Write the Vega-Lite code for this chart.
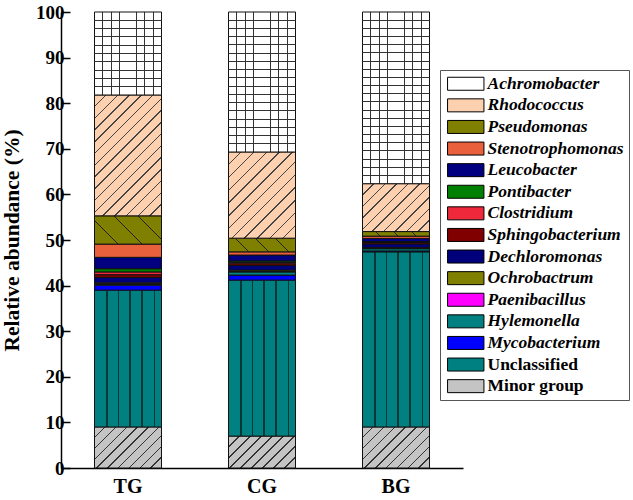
{
  "$schema": "https://vega.github.io/schema/vega-lite/v6.json",
  "autosize": "none",
  "width": 402,
  "height": 456,
  "padding": {"left": 61, "top": 12, "right": 170, "bottom": 32},
  "background": "white",
  "config": {
    "font": "Liberation Serif",
    "view": {"stroke": null}
  },
  "data": {"values": [
    {"group": "TG", "genus": "Minor group", "value": 9.0},
    {"group": "TG", "genus": "Unclassified", "value": 30.0},
    {"group": "TG", "genus": "Mycobacterium", "value": 1.1},
    {"group": "TG", "genus": "Hylemonella", "value": 0.2},
    {"group": "TG", "genus": "Paenibacillus", "value": 0.1},
    {"group": "TG", "genus": "Ochrobactrum", "value": 0.2},
    {"group": "TG", "genus": "Dechloromonas", "value": 1.2},
    {"group": "TG", "genus": "Sphingobacterium", "value": 0.6},
    {"group": "TG", "genus": "Clostridium", "value": 0.6},
    {"group": "TG", "genus": "Pontibacter", "value": 0.7},
    {"group": "TG", "genus": "Leucobacter", "value": 2.5},
    {"group": "TG", "genus": "Stenotrophomonas", "value": 2.9},
    {"group": "TG", "genus": "Pseudomonas", "value": 6.2},
    {"group": "TG", "genus": "Rhodococcus", "value": 26.5},
    {"group": "TG", "genus": "Achromobacter", "value": 18.2},
    {"group": "CG", "genus": "Minor group", "value": 7.0},
    {"group": "CG", "genus": "Unclassified", "value": 34.2},
    {"group": "CG", "genus": "Mycobacterium", "value": 1.1},
    {"group": "CG", "genus": "Hylemonella", "value": 0.7},
    {"group": "CG", "genus": "Paenibacillus", "value": 0.1},
    {"group": "CG", "genus": "Ochrobactrum", "value": 0.3},
    {"group": "CG", "genus": "Dechloromonas", "value": 1.0},
    {"group": "CG", "genus": "Sphingobacterium", "value": 0.4},
    {"group": "CG", "genus": "Clostridium", "value": 0.3},
    {"group": "CG", "genus": "Pontibacter", "value": 0.3},
    {"group": "CG", "genus": "Leucobacter", "value": 1.3},
    {"group": "CG", "genus": "Stenotrophomonas", "value": 0.7},
    {"group": "CG", "genus": "Pseudomonas", "value": 3.0},
    {"group": "CG", "genus": "Rhodococcus", "value": 18.9},
    {"group": "CG", "genus": "Achromobacter", "value": 30.7},
    {"group": "BG", "genus": "Minor group", "value": 9.0},
    {"group": "BG", "genus": "Unclassified", "value": 38.4},
    {"group": "BG", "genus": "Mycobacterium", "value": 0.2},
    {"group": "BG", "genus": "Hylemonella", "value": 0.5},
    {"group": "BG", "genus": "Paenibacillus", "value": 0.05},
    {"group": "BG", "genus": "Ochrobactrum", "value": 0.2},
    {"group": "BG", "genus": "Dechloromonas", "value": 0.8},
    {"group": "BG", "genus": "Sphingobacterium", "value": 0.3},
    {"group": "BG", "genus": "Clostridium", "value": 0.1},
    {"group": "BG", "genus": "Pontibacter", "value": 0.1},
    {"group": "BG", "genus": "Leucobacter", "value": 0.7},
    {"group": "BG", "genus": "Stenotrophomonas", "value": 0.5},
    {"group": "BG", "genus": "Pseudomonas", "value": 1.0},
    {"group": "BG", "genus": "Rhodococcus", "value": 10.5},
    {"group": "BG", "genus": "Achromobacter", "value": 37.65}
  ]},
  "transform": [
    {"calculate": "indexof(['Minor group','Unclassified','Mycobacterium','Hylemonella','Paenibacillus','Ochrobactrum','Dechloromonas','Sphingobacterium','Clostridium','Pontibacter','Leucobacter','Stenotrophomonas','Pseudomonas','Rhodococcus','Achromobacter'], datum.genus)", "as": "rank"},
    {"stack": "value", "groupby": ["group"], "sort": [{"field": "rank", "order": "ascending"}], "as": ["y0", "y1"]}
  ],
  "encoding": {
    "x": {
      "field": "group", "type": "nominal", "sort": ["TG", "CG", "BG"],
      "scale": {"paddingInner": 0.5, "paddingOuter": 0.25},
      "axis": {
        "title": null, "labelAngle": 0, "ticks": false,
        "labelFont": "Liberation Serif", "labelFontWeight": "bold", "labelFontSize": 20,
        "labelColor": "black", "labelPadding": 8,
        "domainColor": "black", "domainWidth": 1.5
      }
    },
    "y": {
      "field": "y0", "type": "quantitative",
      "scale": {"domain": [0, 100], "nice": false},
      "axis": {
        "title": "Relative abundance (%)", "titleFont": "Liberation Serif", "titleFontWeight": "bold",
        "titleFontSize": 21.5, "titleColor": "black", "titlePadding": 12,
        "values": [0, 10, 20, 30, 40, 50, 60, 70, 80, 90, 100],
        "labelFont": "Liberation Serif", "labelFontWeight": "bold", "labelFontSize": 19,
        "labelColor": "black", "labelPadding": 6,
        "tickSize": -9, "tickColor": "black", "tickWidth": 1.5,
        "domainColor": "black", "domainWidth": 1.5, "grid": false
      }
    },
    "y2": {"field": "y1"}
  },
  "layer": [
    {
      "mark": {"type": "bar", "stroke": "#111", "strokeWidth": 1},
      "encoding": {
        "fill": {
          "field": "genus", "type": "nominal",
          "scale": {
            "domain": ["Achromobacter", "Rhodococcus", "Pseudomonas", "Stenotrophomonas", "Leucobacter", "Pontibacter", "Clostridium", "Sphingobacterium", "Dechloromonas", "Ochrobactrum", "Paenibacillus", "Hylemonella", "Mycobacterium", "Unclassified", "Minor group"],
            "range": ["#ffffff", "#fdd0b0", "#808000", "#e8603c", "#000080", "#008000", "#f0283c", "#800000", "#00007a", "#808000", "#ff00ff", "#008080", "#0000ff", "#008080", "#c4c4c4"]
          },
          "legend": {
            "orient": "none", "legendX": 379, "legendY": 58,
            "title": null,
            "labelFont": "Liberation Serif", "labelFontWeight": "bold", "labelFontSize": 17.5,
            "labelColor": "black", "labelOffset": 13,
            "symbolType": "M-2.8,-1H2.8V1H-2.8Z", "symbolSize": 169, "symbolOffset": 12,
            "symbolStrokeColor": "black", "symbolStrokeWidth": 1,
            "rowPadding": 2.6, "padding": 5, "strokeColor": "#555",
            "encode": {
              "labels": {"update": {"fontStyle": {"signal": "datum.label == 'Unclassified' || datum.label == 'Minor group' ? 'normal' : 'italic'"}}},
              "symbols": {"update": {
                "stroke": {"value": "black"},
                "strokeWidth": {"value": 1},
                "fill": [
                {"test": "datum.label == 'Unclassified'", "value": {"gradient": "linear", "x1": 0, "y1": 0, "x2": 1, "y2": 0, "stops": [
                  {"offset": 0, "color": "#008080"}, {"offset": 0.32, "color": "#008080"}, {"offset": 0.32, "color": "#002828"}, {"offset": 0.347, "color": "#002828"}, {"offset": 0.347, "color": "#008080"},
                  {"offset": 0.653, "color": "#008080"}, {"offset": 0.653, "color": "#002828"}, {"offset": 0.68, "color": "#002828"}, {"offset": 0.68, "color": "#008080"}, {"offset": 1, "color": "#008080"}]}},
                {"test": "datum.label == 'Achromobacter'", "value": {"gradient": "linear", "x1": 0, "y1": 0, "x2": 1, "y2": 0, "stops": [
                  {"offset": 0, "color": "#ffffff"}, {"offset": 0.237, "color": "#ffffff"}, {"offset": 0.237, "color": "#222222"}, {"offset": 0.263, "color": "#222222"}, {"offset": 0.263, "color": "#ffffff"},
                  {"offset": 0.487, "color": "#ffffff"}, {"offset": 0.487, "color": "#222222"}, {"offset": 0.513, "color": "#222222"}, {"offset": 0.513, "color": "#ffffff"},
                  {"offset": 0.737, "color": "#ffffff"}, {"offset": 0.737, "color": "#222222"}, {"offset": 0.763, "color": "#222222"}, {"offset": 0.763, "color": "#ffffff"}, {"offset": 1, "color": "#ffffff"}]}},
                {"test": "datum.label == 'Rhodococcus'", "value": {"gradient": "linear", "x1": 0, "y1": 0, "x2": 1.2035, "y2": 0.4298, "stops": [
                  {"offset": 0, "color": "#fdd0b0"}, {"offset": 0.236, "color": "#fdd0b0"}, {"offset": 0.236, "color": "#444444"}, {"offset": 0.264, "color": "#444444"}, {"offset": 0.264, "color": "#fdd0b0"},
                  {"offset": 0.486, "color": "#fdd0b0"}, {"offset": 0.486, "color": "#444444"}, {"offset": 0.514, "color": "#444444"}, {"offset": 0.514, "color": "#fdd0b0"},
                  {"offset": 0.736, "color": "#fdd0b0"}, {"offset": 0.736, "color": "#444444"}, {"offset": 0.764, "color": "#444444"}, {"offset": 0.764, "color": "#fdd0b0"}, {"offset": 1, "color": "#fdd0b0"}]}},
                {"test": "datum.label == 'Minor group'", "value": {"gradient": "linear", "x1": 0, "y1": 0, "x2": 1.2035, "y2": 0.4298, "stops": [
                  {"offset": 0, "color": "#c4c4c4"}, {"offset": 0.236, "color": "#c4c4c4"}, {"offset": 0.236, "color": "#333333"}, {"offset": 0.264, "color": "#333333"}, {"offset": 0.264, "color": "#c4c4c4"},
                  {"offset": 0.486, "color": "#c4c4c4"}, {"offset": 0.486, "color": "#333333"}, {"offset": 0.514, "color": "#333333"}, {"offset": 0.514, "color": "#c4c4c4"},
                  {"offset": 0.736, "color": "#c4c4c4"}, {"offset": 0.736, "color": "#333333"}, {"offset": 0.764, "color": "#333333"}, {"offset": 0.764, "color": "#c4c4c4"}, {"offset": 1, "color": "#c4c4c4"}]}},
                {"test": "datum.label == 'Pseudomonas'", "value": {"gradient": "linear", "x1": 0, "y1": 1, "x2": 1.2035, "y2": 0.5702, "stops": [
                  {"offset": 0, "color": "#808000"}, {"offset": 0.319, "color": "#808000"}, {"offset": 0.319, "color": "#222222"}, {"offset": 0.347, "color": "#222222"}, {"offset": 0.347, "color": "#808000"},
                  {"offset": 0.653, "color": "#808000"}, {"offset": 0.653, "color": "#222222"}, {"offset": 0.681, "color": "#222222"}, {"offset": 0.681, "color": "#808000"}, {"offset": 1, "color": "#808000"}]}},
                {"scale": "fill", "field": "value"}
              ]}}
            }
          },
          "condition": [
            {"test": "datum.genus == 'Unclassified'", "value": {"gradient": "linear", "x1": 0, "y1": 0, "x2": 1, "y2": 0, "stops": [
              {"offset": 0, "color": "#008080"}, {"offset": 0.178, "color": "#008080"}, {"offset": 0.178, "color": "#003838"}, {"offset": 0.196, "color": "#003838"}, {"offset": 0.196, "color": "#008080"},
              {"offset": 0.351, "color": "#008080"}, {"offset": 0.351, "color": "#003838"}, {"offset": 0.369, "color": "#003838"}, {"offset": 0.369, "color": "#008080"},
              {"offset": 0.521, "color": "#008080"}, {"offset": 0.521, "color": "#003838"}, {"offset": 0.539, "color": "#003838"}, {"offset": 0.539, "color": "#008080"},
              {"offset": 0.701, "color": "#008080"}, {"offset": 0.701, "color": "#003838"}, {"offset": 0.719, "color": "#003838"}, {"offset": 0.719, "color": "#008080"},
              {"offset": 0.891, "color": "#008080"}, {"offset": 0.891, "color": "#003838"}, {"offset": 0.909, "color": "#003838"}, {"offset": 0.909, "color": "#008080"},
              {"offset": 1, "color": "#008080"}]}},
            {"test": "datum.genus == 'Achromobacter'", "value": {"gradient": "linear", "x1": 0, "y1": 0, "x2": 1, "y2": 0, "stops": [
              {"offset": 0, "color": "#ffffff"},
              {"offset": 0.118, "color": "#ffffff"}, {"offset": 0.118, "color": "#333333"}, {"offset": 0.132, "color": "#333333"}, {"offset": 0.132, "color": "#ffffff"},
              {"offset": 0.243, "color": "#ffffff"}, {"offset": 0.243, "color": "#333333"}, {"offset": 0.257, "color": "#333333"}, {"offset": 0.257, "color": "#ffffff"},
              {"offset": 0.368, "color": "#ffffff"}, {"offset": 0.368, "color": "#333333"}, {"offset": 0.382, "color": "#333333"}, {"offset": 0.382, "color": "#ffffff"},
              {"offset": 0.493, "color": "#ffffff"}, {"offset": 0.493, "color": "#333333"}, {"offset": 0.507, "color": "#333333"}, {"offset": 0.507, "color": "#ffffff"},
              {"offset": 0.618, "color": "#ffffff"}, {"offset": 0.618, "color": "#333333"}, {"offset": 0.632, "color": "#333333"}, {"offset": 0.632, "color": "#ffffff"},
              {"offset": 0.743, "color": "#ffffff"}, {"offset": 0.743, "color": "#333333"}, {"offset": 0.757, "color": "#333333"}, {"offset": 0.757, "color": "#ffffff"},
              {"offset": 0.868, "color": "#ffffff"}, {"offset": 0.868, "color": "#333333"}, {"offset": 0.882, "color": "#333333"}, {"offset": 0.882, "color": "#ffffff"},
              {"offset": 1, "color": "#ffffff"}]}},
            {"test": "datum.genus == 'Rhodococcus' && datum.group == 'TG'", "value": {"gradient": "linear", "x1": 0, "y1": 0, "x2": 0.6592, "y2": 1.1889, "stops": [
              {"offset": 0, "color": "#fdd0b0"},
              {"offset": 0.0585, "color": "#fdd0b0"}, {"offset": 0.0585, "color": "#444444"}, {"offset": 0.0665, "color": "#444444"}, {"offset": 0.0665, "color": "#fdd0b0"},
              {"offset": 0.121, "color": "#fdd0b0"}, {"offset": 0.121, "color": "#444444"}, {"offset": 0.129, "color": "#444444"}, {"offset": 0.129, "color": "#fdd0b0"},
              {"offset": 0.1835, "color": "#fdd0b0"}, {"offset": 0.1835, "color": "#444444"}, {"offset": 0.1915, "color": "#444444"}, {"offset": 0.1915, "color": "#fdd0b0"},
              {"offset": 0.246, "color": "#fdd0b0"}, {"offset": 0.246, "color": "#444444"}, {"offset": 0.254, "color": "#444444"}, {"offset": 0.254, "color": "#fdd0b0"},
              {"offset": 0.3085, "color": "#fdd0b0"}, {"offset": 0.3085, "color": "#444444"}, {"offset": 0.3165, "color": "#444444"}, {"offset": 0.3165, "color": "#fdd0b0"},
              {"offset": 0.371, "color": "#fdd0b0"}, {"offset": 0.371, "color": "#444444"}, {"offset": 0.379, "color": "#444444"}, {"offset": 0.379, "color": "#fdd0b0"},
              {"offset": 0.4335, "color": "#fdd0b0"}, {"offset": 0.4335, "color": "#444444"}, {"offset": 0.4415, "color": "#444444"}, {"offset": 0.4415, "color": "#fdd0b0"},
              {"offset": 0.496, "color": "#fdd0b0"}, {"offset": 0.496, "color": "#444444"}, {"offset": 0.504, "color": "#444444"}, {"offset": 0.504, "color": "#fdd0b0"},
              {"offset": 0.5585, "color": "#fdd0b0"}, {"offset": 0.5585, "color": "#444444"}, {"offset": 0.5665, "color": "#444444"}, {"offset": 0.5665, "color": "#fdd0b0"},
              {"offset": 0.621, "color": "#fdd0b0"}, {"offset": 0.621, "color": "#444444"}, {"offset": 0.629, "color": "#444444"}, {"offset": 0.629, "color": "#fdd0b0"},
              {"offset": 0.6835, "color": "#fdd0b0"}, {"offset": 0.6835, "color": "#444444"}, {"offset": 0.6915, "color": "#444444"}, {"offset": 0.6915, "color": "#fdd0b0"},
              {"offset": 0.746, "color": "#fdd0b0"}, {"offset": 0.746, "color": "#444444"}, {"offset": 0.754, "color": "#444444"}, {"offset": 0.754, "color": "#fdd0b0"},
              {"offset": 0.8085, "color": "#fdd0b0"}, {"offset": 0.8085, "color": "#444444"}, {"offset": 0.8165, "color": "#444444"}, {"offset": 0.8165, "color": "#fdd0b0"},
              {"offset": 0.871, "color": "#fdd0b0"}, {"offset": 0.871, "color": "#444444"}, {"offset": 0.879, "color": "#444444"}, {"offset": 0.879, "color": "#fdd0b0"},
              {"offset": 0.9335, "color": "#fdd0b0"}, {"offset": 0.9335, "color": "#444444"}, {"offset": 0.9415, "color": "#444444"}, {"offset": 0.9415, "color": "#fdd0b0"},
              {"offset": 1, "color": "#fdd0b0"}]}},
            {"test": "datum.genus == 'Rhodococcus' && datum.group == 'CG'", "value": {"gradient": "linear", "x1": 0, "y1": 0, "x2": 0.8612, "y2": 1.1078, "stops": [
              {"offset": 0, "color": "#fdd0b0"},
              {"offset": 0.0787, "color": "#fdd0b0"}, {"offset": 0.0787, "color": "#444444"}, {"offset": 0.0879, "color": "#444444"}, {"offset": 0.0879, "color": "#fdd0b0"},
              {"offset": 0.1621, "color": "#fdd0b0"}, {"offset": 0.1621, "color": "#444444"}, {"offset": 0.1713, "color": "#444444"}, {"offset": 0.1713, "color": "#fdd0b0"},
              {"offset": 0.2454, "color": "#fdd0b0"}, {"offset": 0.2454, "color": "#444444"}, {"offset": 0.2546, "color": "#444444"}, {"offset": 0.2546, "color": "#fdd0b0"},
              {"offset": 0.3287, "color": "#fdd0b0"}, {"offset": 0.3287, "color": "#444444"}, {"offset": 0.3379, "color": "#444444"}, {"offset": 0.3379, "color": "#fdd0b0"},
              {"offset": 0.4121, "color": "#fdd0b0"}, {"offset": 0.4121, "color": "#444444"}, {"offset": 0.4213, "color": "#444444"}, {"offset": 0.4213, "color": "#fdd0b0"},
              {"offset": 0.4954, "color": "#fdd0b0"}, {"offset": 0.4954, "color": "#444444"}, {"offset": 0.5046, "color": "#444444"}, {"offset": 0.5046, "color": "#fdd0b0"},
              {"offset": 0.5787, "color": "#fdd0b0"}, {"offset": 0.5787, "color": "#444444"}, {"offset": 0.5879, "color": "#444444"}, {"offset": 0.5879, "color": "#fdd0b0"},
              {"offset": 0.6621, "color": "#fdd0b0"}, {"offset": 0.6621, "color": "#444444"}, {"offset": 0.6713, "color": "#444444"}, {"offset": 0.6713, "color": "#fdd0b0"},
              {"offset": 0.7454, "color": "#fdd0b0"}, {"offset": 0.7454, "color": "#444444"}, {"offset": 0.7546, "color": "#444444"}, {"offset": 0.7546, "color": "#fdd0b0"},
              {"offset": 0.8287, "color": "#fdd0b0"}, {"offset": 0.8287, "color": "#444444"}, {"offset": 0.8379, "color": "#444444"}, {"offset": 0.8379, "color": "#fdd0b0"},
              {"offset": 0.9121, "color": "#fdd0b0"}, {"offset": 0.9121, "color": "#444444"}, {"offset": 0.9213, "color": "#444444"}, {"offset": 0.9213, "color": "#fdd0b0"},
              {"offset": 1, "color": "#fdd0b0"}]}},
            {"test": "datum.genus == 'Rhodococcus' && datum.group == 'BG'", "value": {"gradient": "linear", "x1": 0, "y1": 0, "x2": 1.135, "y2": 0.811, "stops": [
              {"offset": 0, "color": "#fdd0b0"},
              {"offset": 0.094, "color": "#fdd0b0"}, {"offset": 0.094, "color": "#444444"}, {"offset": 0.106, "color": "#444444"}, {"offset": 0.106, "color": "#fdd0b0"},
              {"offset": 0.194, "color": "#fdd0b0"}, {"offset": 0.194, "color": "#444444"}, {"offset": 0.206, "color": "#444444"}, {"offset": 0.206, "color": "#fdd0b0"},
              {"offset": 0.294, "color": "#fdd0b0"}, {"offset": 0.294, "color": "#444444"}, {"offset": 0.306, "color": "#444444"}, {"offset": 0.306, "color": "#fdd0b0"},
              {"offset": 0.394, "color": "#fdd0b0"}, {"offset": 0.394, "color": "#444444"}, {"offset": 0.406, "color": "#444444"}, {"offset": 0.406, "color": "#fdd0b0"},
              {"offset": 0.494, "color": "#fdd0b0"}, {"offset": 0.494, "color": "#444444"}, {"offset": 0.506, "color": "#444444"}, {"offset": 0.506, "color": "#fdd0b0"},
              {"offset": 0.594, "color": "#fdd0b0"}, {"offset": 0.594, "color": "#444444"}, {"offset": 0.606, "color": "#444444"}, {"offset": 0.606, "color": "#fdd0b0"},
              {"offset": 0.694, "color": "#fdd0b0"}, {"offset": 0.694, "color": "#444444"}, {"offset": 0.706, "color": "#444444"}, {"offset": 0.706, "color": "#fdd0b0"},
              {"offset": 0.794, "color": "#fdd0b0"}, {"offset": 0.794, "color": "#444444"}, {"offset": 0.806, "color": "#444444"}, {"offset": 0.806, "color": "#fdd0b0"},
              {"offset": 0.894, "color": "#fdd0b0"}, {"offset": 0.894, "color": "#444444"}, {"offset": 0.906, "color": "#444444"}, {"offset": 0.906, "color": "#fdd0b0"},
              {"offset": 1, "color": "#fdd0b0"}]}},
            {"test": "datum.genus == 'Minor group' && datum.group != 'CG'", "value": {"gradient": "linear", "x1": 0, "y1": 0, "x2": 1.1725, "y2": 0.7182, "stops": [
              {"offset": 0, "color": "#c4c4c4"},
              {"offset": 0.0935, "color": "#c4c4c4"}, {"offset": 0.0935, "color": "#333333"}, {"offset": 0.1065, "color": "#333333"}, {"offset": 0.1065, "color": "#c4c4c4"},
              {"offset": 0.1935, "color": "#c4c4c4"}, {"offset": 0.1935, "color": "#333333"}, {"offset": 0.2065, "color": "#333333"}, {"offset": 0.2065, "color": "#c4c4c4"},
              {"offset": 0.2935, "color": "#c4c4c4"}, {"offset": 0.2935, "color": "#333333"}, {"offset": 0.3065, "color": "#333333"}, {"offset": 0.3065, "color": "#c4c4c4"},
              {"offset": 0.3935, "color": "#c4c4c4"}, {"offset": 0.3935, "color": "#333333"}, {"offset": 0.4065, "color": "#333333"}, {"offset": 0.4065, "color": "#c4c4c4"},
              {"offset": 0.4935, "color": "#c4c4c4"}, {"offset": 0.4935, "color": "#333333"}, {"offset": 0.5065, "color": "#333333"}, {"offset": 0.5065, "color": "#c4c4c4"},
              {"offset": 0.5935, "color": "#c4c4c4"}, {"offset": 0.5935, "color": "#333333"}, {"offset": 0.6065, "color": "#333333"}, {"offset": 0.6065, "color": "#c4c4c4"},
              {"offset": 0.6935, "color": "#c4c4c4"}, {"offset": 0.6935, "color": "#333333"}, {"offset": 0.7065, "color": "#333333"}, {"offset": 0.7065, "color": "#c4c4c4"},
              {"offset": 0.7935, "color": "#c4c4c4"}, {"offset": 0.7935, "color": "#333333"}, {"offset": 0.8065, "color": "#333333"}, {"offset": 0.8065, "color": "#c4c4c4"},
              {"offset": 0.8935, "color": "#c4c4c4"}, {"offset": 0.8935, "color": "#333333"}, {"offset": 0.9065, "color": "#333333"}, {"offset": 0.9065, "color": "#c4c4c4"},
              {"offset": 1, "color": "#c4c4c4"}]}},
            {"test": "datum.genus == 'Minor group' && datum.group == 'CG'", "value": {"gradient": "linear", "x1": 0, "y1": 0, "x2": 1.2033, "y2": 0.5733, "stops": [
              {"offset": 0, "color": "#c4c4c4"},
              {"offset": 0.1041, "color": "#c4c4c4"}, {"offset": 0.1041, "color": "#333333"}, {"offset": 0.1181, "color": "#333333"}, {"offset": 0.1181, "color": "#c4c4c4"},
              {"offset": 0.2152, "color": "#c4c4c4"}, {"offset": 0.2152, "color": "#333333"}, {"offset": 0.2292, "color": "#333333"}, {"offset": 0.2292, "color": "#c4c4c4"},
              {"offset": 0.3263, "color": "#c4c4c4"}, {"offset": 0.3263, "color": "#333333"}, {"offset": 0.3403, "color": "#333333"}, {"offset": 0.3403, "color": "#c4c4c4"},
              {"offset": 0.4374, "color": "#c4c4c4"}, {"offset": 0.4374, "color": "#333333"}, {"offset": 0.4514, "color": "#333333"}, {"offset": 0.4514, "color": "#c4c4c4"},
              {"offset": 0.5486, "color": "#c4c4c4"}, {"offset": 0.5486, "color": "#333333"}, {"offset": 0.5626, "color": "#333333"}, {"offset": 0.5626, "color": "#c4c4c4"},
              {"offset": 0.6597, "color": "#c4c4c4"}, {"offset": 0.6597, "color": "#333333"}, {"offset": 0.6737, "color": "#333333"}, {"offset": 0.6737, "color": "#c4c4c4"},
              {"offset": 0.7708, "color": "#c4c4c4"}, {"offset": 0.7708, "color": "#333333"}, {"offset": 0.7848, "color": "#333333"}, {"offset": 0.7848, "color": "#c4c4c4"},
              {"offset": 0.8819, "color": "#c4c4c4"}, {"offset": 0.8819, "color": "#333333"}, {"offset": 0.8959, "color": "#333333"}, {"offset": 0.8959, "color": "#c4c4c4"},
              {"offset": 1, "color": "#c4c4c4"}]}},
            {"test": "datum.genus == 'Pseudomonas' && datum.group == 'TG'", "value": {"gradient": "linear", "x1": 0, "y1": 1, "x2": 1.207, "y2": 0.4907, "stops": [
              {"offset": 0, "color": "#808000"},
              {"offset": 0.2426, "color": "#808000"}, {"offset": 0.2426, "color": "#222222"}, {"offset": 0.2574, "color": "#222222"}, {"offset": 0.2574, "color": "#808000"},
              {"offset": 0.4926, "color": "#808000"}, {"offset": 0.4926, "color": "#222222"}, {"offset": 0.5074, "color": "#222222"}, {"offset": 0.5074, "color": "#808000"},
              {"offset": 0.7426, "color": "#808000"}, {"offset": 0.7426, "color": "#222222"}, {"offset": 0.7574, "color": "#222222"}, {"offset": 0.7574, "color": "#808000"},
              {"offset": 1, "color": "#808000"}]}},
            {"test": "datum.genus == 'Pseudomonas' && datum.group == 'CG'", "value": {"gradient": "linear", "x1": 0, "y1": 1, "x2": 1.1558, "y2": 0.764, "stops": [
              {"offset": 0, "color": "#808000"},
              {"offset": 0.2412, "color": "#808000"}, {"offset": 0.2412, "color": "#222222"}, {"offset": 0.2588, "color": "#222222"}, {"offset": 0.2588, "color": "#808000"},
              {"offset": 0.4912, "color": "#808000"}, {"offset": 0.4912, "color": "#222222"}, {"offset": 0.5088, "color": "#222222"}, {"offset": 0.5088, "color": "#808000"},
              {"offset": 0.7412, "color": "#808000"}, {"offset": 0.7412, "color": "#222222"}, {"offset": 0.7588, "color": "#222222"}, {"offset": 0.7588, "color": "#808000"},
              {"offset": 1, "color": "#808000"}]}},
            {"test": "datum.genus == 'Pseudomonas' && datum.group == 'BG'", "value": {"gradient": "linear", "x1": 0, "y1": 1, "x2": 1.0632, "y2": 0.9276, "stops": [
              {"offset": 0, "color": "#808000"},
              {"offset": 0.24, "color": "#808000"}, {"offset": 0.24, "color": "#222222"}, {"offset": 0.26, "color": "#222222"}, {"offset": 0.26, "color": "#808000"},
              {"offset": 0.49, "color": "#808000"}, {"offset": 0.49, "color": "#222222"}, {"offset": 0.51, "color": "#222222"}, {"offset": 0.51, "color": "#808000"},
              {"offset": 0.74, "color": "#808000"}, {"offset": 0.74, "color": "#222222"}, {"offset": 0.76, "color": "#222222"}, {"offset": 0.76, "color": "#808000"},
              {"offset": 1, "color": "#808000"}]}}
          ]
        }
      }
    },
    {
      "transform": [{"filter": "datum.genus == 'Achromobacter'"}],
      "mark": {"type": "bar", "strokeWidth": 0},
      "encoding": {
        "fill": {
          "condition": [
            {"test": "datum.group == 'TG'", "value": {"gradient": "linear", "x1": 0, "y1": 0, "x2": 0, "y2": 1, "stops": [
              {"offset": 0, "color": "rgba(255,255,255,0)"},
              {"offset": 0.094, "color": "rgba(255,255,255,0)"}, {"offset": 0.094, "color": "#333333"}, {"offset": 0.106, "color": "#333333"}, {"offset": 0.106, "color": "rgba(255,255,255,0)"},
              {"offset": 0.194, "color": "rgba(255,255,255,0)"}, {"offset": 0.194, "color": "#333333"}, {"offset": 0.206, "color": "#333333"}, {"offset": 0.206, "color": "rgba(255,255,255,0)"},
              {"offset": 0.294, "color": "rgba(255,255,255,0)"}, {"offset": 0.294, "color": "#333333"}, {"offset": 0.306, "color": "#333333"}, {"offset": 0.306, "color": "rgba(255,255,255,0)"},
              {"offset": 0.394, "color": "rgba(255,255,255,0)"}, {"offset": 0.394, "color": "#333333"}, {"offset": 0.406, "color": "#333333"}, {"offset": 0.406, "color": "rgba(255,255,255,0)"},
              {"offset": 0.494, "color": "rgba(255,255,255,0)"}, {"offset": 0.494, "color": "#333333"}, {"offset": 0.506, "color": "#333333"}, {"offset": 0.506, "color": "rgba(255,255,255,0)"},
              {"offset": 0.594, "color": "rgba(255,255,255,0)"}, {"offset": 0.594, "color": "#333333"}, {"offset": 0.606, "color": "#333333"}, {"offset": 0.606, "color": "rgba(255,255,255,0)"},
              {"offset": 0.694, "color": "rgba(255,255,255,0)"}, {"offset": 0.694, "color": "#333333"}, {"offset": 0.706, "color": "#333333"}, {"offset": 0.706, "color": "rgba(255,255,255,0)"},
              {"offset": 0.794, "color": "rgba(255,255,255,0)"}, {"offset": 0.794, "color": "#333333"}, {"offset": 0.806, "color": "#333333"}, {"offset": 0.806, "color": "rgba(255,255,255,0)"},
              {"offset": 0.894, "color": "rgba(255,255,255,0)"}, {"offset": 0.894, "color": "#333333"}, {"offset": 0.906, "color": "#333333"}, {"offset": 0.906, "color": "rgba(255,255,255,0)"},
              {"offset": 1, "color": "rgba(255,255,255,0)"}]}},
            {"test": "datum.group == 'CG'", "value": {"gradient": "linear", "x1": 0, "y1": 0, "x2": 0, "y2": 1, "stops": [
              {"offset": 0, "color": "rgba(255,255,255,0)"},
              {"offset": 0.0552, "color": "rgba(255,255,255,0)"}, {"offset": 0.0552, "color": "#333333"}, {"offset": 0.0624, "color": "#333333"}, {"offset": 0.0624, "color": "rgba(255,255,255,0)"},
              {"offset": 0.114, "color": "rgba(255,255,255,0)"}, {"offset": 0.114, "color": "#333333"}, {"offset": 0.1212, "color": "#333333"}, {"offset": 0.1212, "color": "rgba(255,255,255,0)"},
              {"offset": 0.1729, "color": "rgba(255,255,255,0)"}, {"offset": 0.1729, "color": "#333333"}, {"offset": 0.1801, "color": "#333333"}, {"offset": 0.1801, "color": "rgba(255,255,255,0)"},
              {"offset": 0.2317, "color": "rgba(255,255,255,0)"}, {"offset": 0.2317, "color": "#333333"}, {"offset": 0.2389, "color": "#333333"}, {"offset": 0.2389, "color": "rgba(255,255,255,0)"},
              {"offset": 0.2905, "color": "rgba(255,255,255,0)"}, {"offset": 0.2905, "color": "#333333"}, {"offset": 0.2977, "color": "#333333"}, {"offset": 0.2977, "color": "rgba(255,255,255,0)"},
              {"offset": 0.3493, "color": "rgba(255,255,255,0)"}, {"offset": 0.3493, "color": "#333333"}, {"offset": 0.3565, "color": "#333333"}, {"offset": 0.3565, "color": "rgba(255,255,255,0)"},
              {"offset": 0.4082, "color": "rgba(255,255,255,0)"}, {"offset": 0.4082, "color": "#333333"}, {"offset": 0.4154, "color": "#333333"}, {"offset": 0.4154, "color": "rgba(255,255,255,0)"},
              {"offset": 0.467, "color": "rgba(255,255,255,0)"}, {"offset": 0.467, "color": "#333333"}, {"offset": 0.4742, "color": "#333333"}, {"offset": 0.4742, "color": "rgba(255,255,255,0)"},
              {"offset": 0.5258, "color": "rgba(255,255,255,0)"}, {"offset": 0.5258, "color": "#333333"}, {"offset": 0.533, "color": "#333333"}, {"offset": 0.533, "color": "rgba(255,255,255,0)"},
              {"offset": 0.5846, "color": "rgba(255,255,255,0)"}, {"offset": 0.5846, "color": "#333333"}, {"offset": 0.5918, "color": "#333333"}, {"offset": 0.5918, "color": "rgba(255,255,255,0)"},
              {"offset": 0.6435, "color": "rgba(255,255,255,0)"}, {"offset": 0.6435, "color": "#333333"}, {"offset": 0.6507, "color": "#333333"}, {"offset": 0.6507, "color": "rgba(255,255,255,0)"},
              {"offset": 0.7023, "color": "rgba(255,255,255,0)"}, {"offset": 0.7023, "color": "#333333"}, {"offset": 0.7095, "color": "#333333"}, {"offset": 0.7095, "color": "rgba(255,255,255,0)"},
              {"offset": 0.7611, "color": "rgba(255,255,255,0)"}, {"offset": 0.7611, "color": "#333333"}, {"offset": 0.7683, "color": "#333333"}, {"offset": 0.7683, "color": "rgba(255,255,255,0)"},
              {"offset": 0.8199, "color": "rgba(255,255,255,0)"}, {"offset": 0.8199, "color": "#333333"}, {"offset": 0.8271, "color": "#333333"}, {"offset": 0.8271, "color": "rgba(255,255,255,0)"},
              {"offset": 0.8788, "color": "rgba(255,255,255,0)"}, {"offset": 0.8788, "color": "#333333"}, {"offset": 0.886, "color": "#333333"}, {"offset": 0.886, "color": "rgba(255,255,255,0)"},
              {"offset": 0.9376, "color": "rgba(255,255,255,0)"}, {"offset": 0.9376, "color": "#333333"}, {"offset": 0.9448, "color": "#333333"}, {"offset": 0.9448, "color": "rgba(255,255,255,0)"},
              {"offset": 1, "color": "rgba(255,255,255,0)"}]}}
          ],
          "value": {"gradient": "linear", "x1": 0, "y1": 0, "x2": 0, "y2": 1, "stops": [
              {"offset": 0, "color": "rgba(255,255,255,0)"},
              {"offset": 0.0446, "color": "rgba(255,255,255,0)"}, {"offset": 0.0446, "color": "#333333"}, {"offset": 0.0506, "color": "#333333"}, {"offset": 0.0506, "color": "rgba(255,255,255,0)"},
              {"offset": 0.0922, "color": "rgba(255,255,255,0)"}, {"offset": 0.0922, "color": "#333333"}, {"offset": 0.0982, "color": "#333333"}, {"offset": 0.0982, "color": "rgba(255,255,255,0)"},
              {"offset": 0.1399, "color": "rgba(255,255,255,0)"}, {"offset": 0.1399, "color": "#333333"}, {"offset": 0.1459, "color": "#333333"}, {"offset": 0.1459, "color": "rgba(255,255,255,0)"},
              {"offset": 0.1875, "color": "rgba(255,255,255,0)"}, {"offset": 0.1875, "color": "#333333"}, {"offset": 0.1935, "color": "#333333"}, {"offset": 0.1935, "color": "rgba(255,255,255,0)"},
              {"offset": 0.2351, "color": "rgba(255,255,255,0)"}, {"offset": 0.2351, "color": "#333333"}, {"offset": 0.2411, "color": "#333333"}, {"offset": 0.2411, "color": "rgba(255,255,255,0)"},
              {"offset": 0.2827, "color": "rgba(255,255,255,0)"}, {"offset": 0.2827, "color": "#333333"}, {"offset": 0.2887, "color": "#333333"}, {"offset": 0.2887, "color": "rgba(255,255,255,0)"},
              {"offset": 0.3303, "color": "rgba(255,255,255,0)"}, {"offset": 0.3303, "color": "#333333"}, {"offset": 0.3363, "color": "#333333"}, {"offset": 0.3363, "color": "rgba(255,255,255,0)"},
              {"offset": 0.378, "color": "rgba(255,255,255,0)"}, {"offset": 0.378, "color": "#333333"}, {"offset": 0.384, "color": "#333333"}, {"offset": 0.384, "color": "rgba(255,255,255,0)"},
              {"offset": 0.4256, "color": "rgba(255,255,255,0)"}, {"offset": 0.4256, "color": "#333333"}, {"offset": 0.4316, "color": "#333333"}, {"offset": 0.4316, "color": "rgba(255,255,255,0)"},
              {"offset": 0.4732, "color": "rgba(255,255,255,0)"}, {"offset": 0.4732, "color": "#333333"}, {"offset": 0.4792, "color": "#333333"}, {"offset": 0.4792, "color": "rgba(255,255,255,0)"},
              {"offset": 0.5208, "color": "rgba(255,255,255,0)"}, {"offset": 0.5208, "color": "#333333"}, {"offset": 0.5268, "color": "#333333"}, {"offset": 0.5268, "color": "rgba(255,255,255,0)"},
              {"offset": 0.5684, "color": "rgba(255,255,255,0)"}, {"offset": 0.5684, "color": "#333333"}, {"offset": 0.5744, "color": "#333333"}, {"offset": 0.5744, "color": "rgba(255,255,255,0)"},
              {"offset": 0.616, "color": "rgba(255,255,255,0)"}, {"offset": 0.616, "color": "#333333"}, {"offset": 0.622, "color": "#333333"}, {"offset": 0.622, "color": "rgba(255,255,255,0)"},
              {"offset": 0.6637, "color": "rgba(255,255,255,0)"}, {"offset": 0.6637, "color": "#333333"}, {"offset": 0.6697, "color": "#333333"}, {"offset": 0.6697, "color": "rgba(255,255,255,0)"},
              {"offset": 0.7113, "color": "rgba(255,255,255,0)"}, {"offset": 0.7113, "color": "#333333"}, {"offset": 0.7173, "color": "#333333"}, {"offset": 0.7173, "color": "rgba(255,255,255,0)"},
              {"offset": 0.7589, "color": "rgba(255,255,255,0)"}, {"offset": 0.7589, "color": "#333333"}, {"offset": 0.7649, "color": "#333333"}, {"offset": 0.7649, "color": "rgba(255,255,255,0)"},
              {"offset": 0.8065, "color": "rgba(255,255,255,0)"}, {"offset": 0.8065, "color": "#333333"}, {"offset": 0.8125, "color": "#333333"}, {"offset": 0.8125, "color": "rgba(255,255,255,0)"},
              {"offset": 0.8541, "color": "rgba(255,255,255,0)"}, {"offset": 0.8541, "color": "#333333"}, {"offset": 0.8601, "color": "#333333"}, {"offset": 0.8601, "color": "rgba(255,255,255,0)"},
              {"offset": 0.9018, "color": "rgba(255,255,255,0)"}, {"offset": 0.9018, "color": "#333333"}, {"offset": 0.9078, "color": "#333333"}, {"offset": 0.9078, "color": "rgba(255,255,255,0)"},
              {"offset": 0.9494, "color": "rgba(255,255,255,0)"}, {"offset": 0.9494, "color": "#333333"}, {"offset": 0.9554, "color": "#333333"}, {"offset": 0.9554, "color": "rgba(255,255,255,0)"},
              {"offset": 1, "color": "rgba(255,255,255,0)"}]}
        }
      }
    }
  ]
}
